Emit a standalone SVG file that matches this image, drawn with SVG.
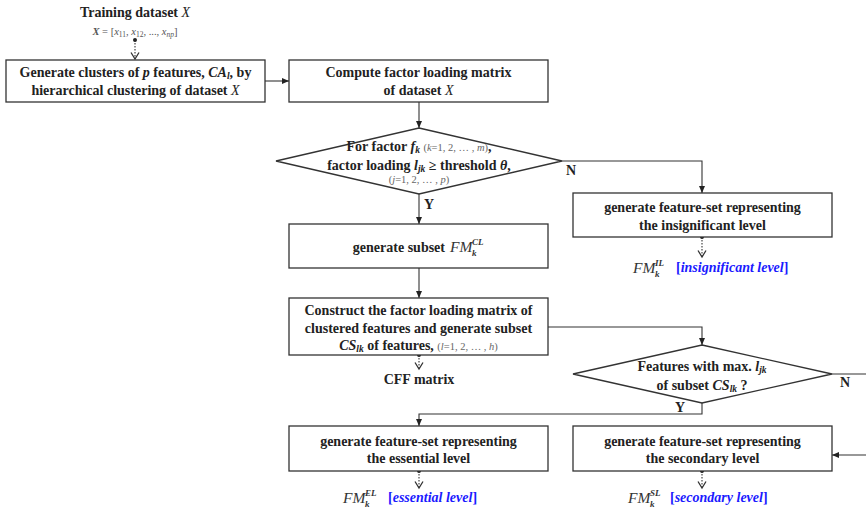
<svg xmlns="http://www.w3.org/2000/svg" width="866" height="513" viewBox="0 0 866 513">
<style>
.box{fill:#fff;stroke:#333;stroke-width:1.3}
.t{font-family:"Liberation Serif","Times New Roman",serif;font-weight:bold;font-size:14px;fill:#222}
.c{text-anchor:middle}
.e{text-anchor:end}
.i{font-style:italic}
.n{font-weight:normal}
.s{font-size:10.5px;font-weight:normal;fill:#666}
.sb{font-size:9.5px}
.ln{fill:none;stroke:#333;stroke-width:1.1}
.dt{fill:none;stroke:#333;stroke-width:1.1;stroke-dasharray:1.5 1.5}
.fm{font-family:"Liberation Serif","Times New Roman",serif;font-style:italic;font-size:15.5px;fill:#333}
.fs{font-size:9px;font-weight:bold}
.bl{font-family:"Liberation Serif","Times New Roman",serif;font-weight:bold;font-size:14px;fill:#1a1aff}
.x{font-family:"Liberation Serif","Times New Roman",serif;font-size:10.5px;fill:#555}
</style>
<defs>
<marker id="ar" markerWidth="8" markerHeight="8" refX="7" refY="3.5" orient="auto" markerUnits="userSpaceOnUse"><path d="M0,0.5 L7,3.5 L0,6.5z" fill="#222"/></marker>
<marker id="ch" markerWidth="10" markerHeight="10" refX="7" refY="4.5" orient="auto" markerUnits="userSpaceOnUse"><path d="M0.5,0.5 L7,4.5 L0.5,8.5" fill="none" stroke="#333" stroke-width="1.3"/></marker>
<marker id="dot" markerWidth="5" markerHeight="5" refX="2.5" refY="2.5" markerUnits="userSpaceOnUse"><circle cx="2.5" cy="2.5" r="2" fill="#222"/></marker>
</defs>

<g id="connectors">
<line class="dt" x1="135" y1="40" x2="135" y2="59" marker-start="url(#dot)" marker-end="url(#ch)"/>
<line class="ln" x1="265" y1="81" x2="289" y2="81" marker-end="url(#ar)"/>
<line class="ln" x1="419" y1="102" x2="419" y2="128" marker-end="url(#ar)"/>
<polyline class="ln" points="562,161 702,161 702,193" marker-end="url(#ar)"/>
<line class="dt" x1="702" y1="237" x2="702" y2="257" marker-start="url(#dot)" marker-end="url(#ch)"/>
<line class="ln" x1="419" y1="194" x2="419" y2="224" marker-end="url(#ar)"/>
<line class="ln" x1="419" y1="268" x2="419" y2="298" marker-end="url(#ar)"/>
<line class="dt" x1="419" y1="355" x2="419" y2="369" marker-start="url(#dot)" marker-end="url(#ch)"/>
<polyline class="ln" points="548,327 702,327 702,345" marker-end="url(#ar)"/>
<line class="ln" x1="832" y1="374" x2="866" y2="374"/>
<polyline class="ln" points="702,403 702,414 419,414 419,426" marker-end="url(#ar)"/>
<line class="ln" x1="866" y1="455" x2="832" y2="455" marker-end="url(#ar)"/>
<line class="dt" x1="419" y1="471" x2="419" y2="488" marker-start="url(#dot)" marker-end="url(#ch)"/>
<line class="dt" x1="702" y1="471" x2="702" y2="488" marker-start="url(#dot)" marker-end="url(#ch)"/>
<text class="t" x="566" y="175">N</text>
<text class="t" x="424" y="209">Y</text>
<text class="t" x="840" y="387">N</text>
<text class="t" x="675" y="412">Y</text>
</g>

<g id="input">
<text class="t c" x="135" y="17">Training dataset <tspan class="i n">X</tspan></text>
<text class="x c" x="135" y="35"><tspan class="i" font-weight="bold">X</tspan> = [<tspan class="i">x</tspan><tspan font-size="7.5" dy="2">11</tspan><tspan dy="-2">, </tspan><tspan class="i">x</tspan><tspan font-size="7.5" dy="2">12</tspan><tspan dy="-2">, ..., </tspan><tspan class="i">x</tspan><tspan class="i" font-size="7.5" dy="2">np</tspan><tspan dy="-2">]</tspan></text>
</g>

<g id="cluster">
<rect class="box" x="6" y="60" width="259" height="42"/>
<text class="t c" x="135.5" y="77">Generate clusters of <tspan class="i">p</tspan> features, <tspan class="i">CA</tspan><tspan class="i sb" dy="2">l</tspan><tspan dy="-2">, by</tspan></text>
<text class="t c" x="135.5" y="95">hierarchical clustering of dataset <tspan class="i n">X</tspan></text>
</g>

<g id="compute">
<rect class="box" x="289" y="60" width="259" height="42"/>
<text class="t c" x="418.5" y="77">Compute factor loading matrix</text>
<text class="t c" x="418.5" y="95">of dataset <tspan class="i n">X</tspan></text>
</g>

<g id="decision1">
<polygon class="box" points="419,128 562,161 419,194 276,161"/>
<text class="t c" x="419" y="151">For factor <tspan class="i">f</tspan><tspan class="i sb" dy="2">k</tspan><tspan dy="-2"> </tspan><tspan class="s">(<tspan class="i">k</tspan>=1, 2, … , <tspan class="i">m</tspan>)</tspan>,</text>
<text class="t c" x="419" y="169.5">factor loading <tspan class="i">l</tspan><tspan class="i sb" dy="2">jk</tspan><tspan dy="-2"> ≥ threshold </tspan><tspan class="i">θ</tspan>,</text>
<text class="t c s" x="419" y="183">(<tspan class="i">j</tspan>=1, 2, … , <tspan class="i">p</tspan>)</text>
</g>

<g id="insignificant">
<rect class="box" x="573" y="193" width="259" height="44"/>
<text class="t c" x="702.5" y="212">generate feature-set representing</text>
<text class="t c" x="702.5" y="229.5">the insignificant level</text>
<text class="fm" x="633" y="273">FM<tspan class="fs" x="655" dy="-7">IL</tspan><tspan class="fs" x="655" dy="11">k</tspan></text>
<text class="bl" x="676" y="272">[<tspan class="i">insignificant level</tspan>]</text>
</g>

<g id="subsetCL">
<rect class="box" x="289" y="224" width="259" height="44"/>
<text class="t e" x="445" y="252">generate subset</text>
<text class="fm" x="450" y="252">FM<tspan class="fs" x="472" dy="-7">CL</tspan><tspan class="fs" x="472" dy="11">k</tspan></text>
</g>

<g id="construct">
<rect class="box" x="289" y="298" width="259" height="57"/>
<text class="t c" x="418.5" y="314.5">Construct the factor loading matrix of</text>
<text class="t c" x="418.5" y="332.5">clustered features and generate subset</text>
<text class="t c" x="418.5" y="350"><tspan class="i">CS</tspan><tspan class="i sb" dy="2">lk</tspan><tspan dy="-2"> of features, </tspan><tspan class="s">(<tspan class="i">l</tspan>=1, 2, … , <tspan class="i">h</tspan>)</tspan></text>
<text class="t c" x="419" y="384">CFF matrix</text>
</g>

<g id="decision2">
<polygon class="box" points="702,345 832,374 702,403 573,374"/>
<text class="t c" x="702" y="371">Features with max. <tspan class="i">l</tspan><tspan class="i sb" dy="2">jk</tspan></text>
<text class="t c" x="702" y="390">of subset <tspan class="i">CS</tspan><tspan class="i sb" dy="2">lk</tspan><tspan dy="-2"> ?</tspan></text>
</g>

<g id="essential">
<rect class="box" x="289" y="426" width="259" height="45"/>
<text class="t c" x="418.5" y="445.5">generate feature-set representing</text>
<text class="t c" x="418.5" y="462.5">the essential level</text>
<text class="fm" x="343" y="503">FM<tspan class="fs" x="365" dy="-7">EL</tspan><tspan class="fs" x="365" dy="11">k</tspan></text>
<text class="bl" x="388" y="502">[<tspan class="i">essential level</tspan>]</text>
</g>

<g id="secondary">
<rect class="box" x="573" y="426" width="259" height="45"/>
<text class="t c" x="702.5" y="445.5">generate feature-set representing</text>
<text class="t c" x="702.5" y="462.5">the secondary level</text>
<text class="fm" x="628" y="503">FM<tspan class="fs" x="650" dy="-7">SL</tspan><tspan class="fs" x="650" dy="11">k</tspan></text>
<text class="bl" x="670" y="502">[<tspan class="i">secondary level</tspan>]</text>
</g>
</svg>
